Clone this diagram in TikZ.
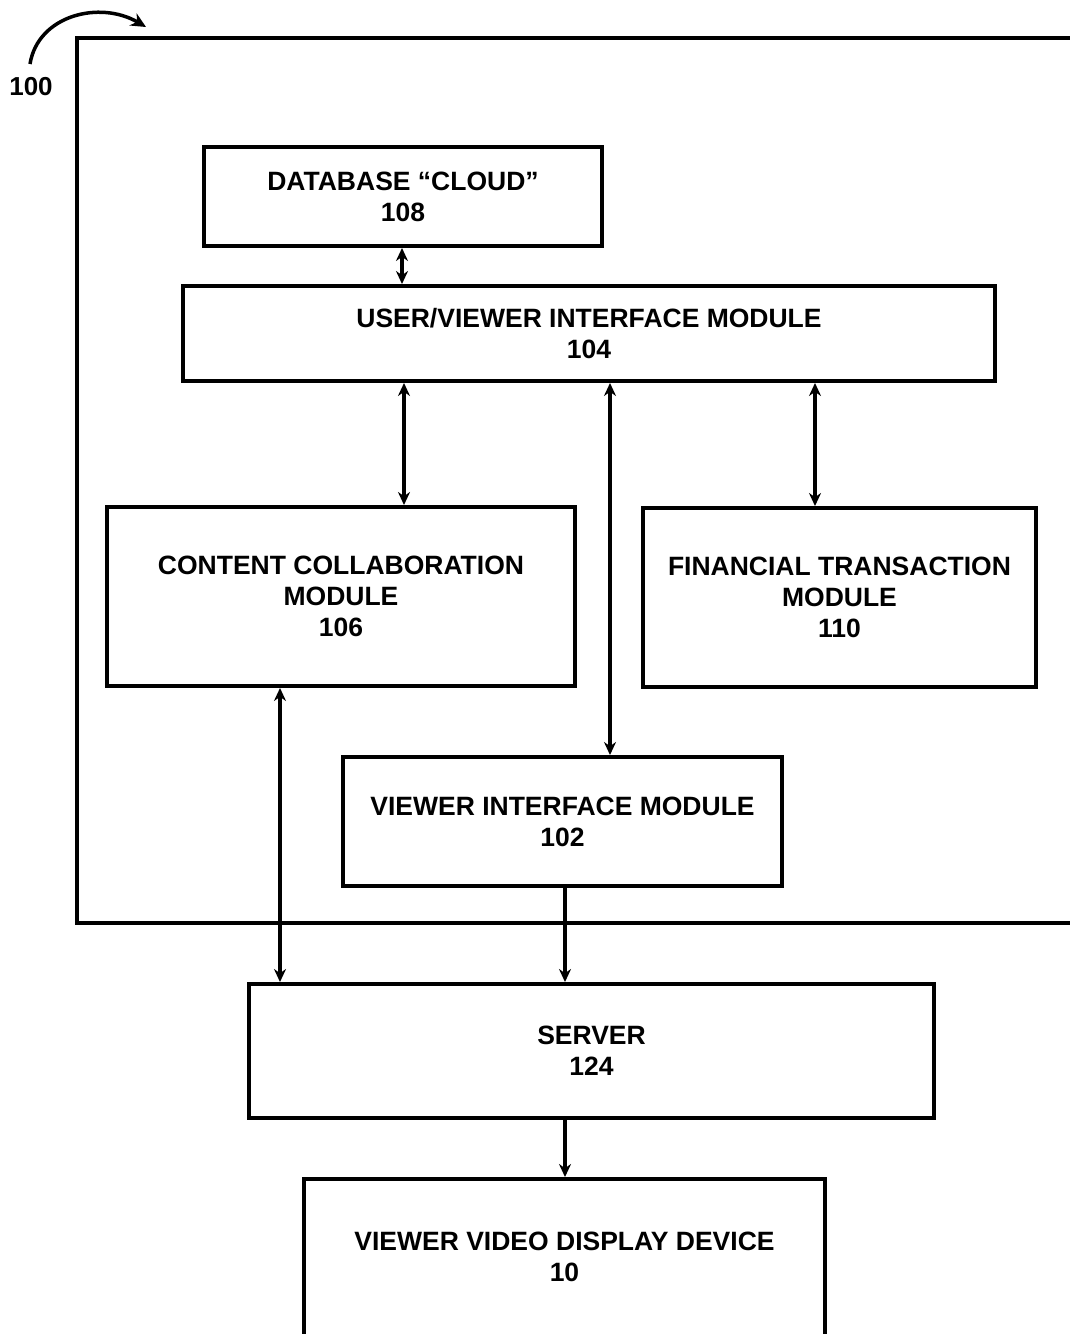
\documentclass[tikz,border=0pt]{standalone}
\usepackage{fontspec}
\setmainfont{Liberation Sans}
\usetikzlibrary{arrows.meta}
\begin{document}
\begin{tikzpicture}[x=1pt,y=-1pt,
  txt/.style={align=center,font=\fontsize{26.5}{31}\selectfont\bfseries,inner sep=0pt},
  box/.style={txt,draw,line width=4pt},
  tip/.style={Stealth[length=13pt,width=12pt]},
  conn/.style={line width=3.5pt,{Stealth[length=13pt,width=12pt]}-{Stealth[length=13pt,width=12pt]}},
  oneway/.style={line width=3.5pt,-{Stealth[length=13pt,width=12pt]}}]
\useasboundingbox (0,0) rectangle (1070,1334);
\clip (0,0) rectangle (1070,1334);
% outer frame
\draw[line width=4pt] (1075,38) -- (77,38) -- (77,923) -- (1075,923);
\node[font=\fontsize{26}{30}\selectfont\bfseries] (lbl) at (31,87) {100};
\coordinate (cs) at (30,64);
\coordinate (ce) at (146,27);
\draw[line width=3.5pt,-{Stealth[length=15pt,width=14pt]}] (cs) .. controls (38,15) and (100,0) .. (ce);
% boxes
\node[box,minimum width=398,minimum height=99] (db) at (403,196.5) {DATABASE “CLOUD”\\108};
\node[box,minimum width=812,minimum height=95] (uv) at (589,333.5) {USER/VIEWER INTERFACE MODULE\\104};
\node[box,minimum width=468,minimum height=179] (cc) at (341,596.5) {CONTENT COLLABORATION\\MODULE\\106};
\node[box,minimum width=393,minimum height=179] (ft) at (839.5,597.5) {FINANCIAL TRANSACTION\\MODULE\\110};
\node[box,minimum width=439,minimum height=129] (vi) at (562.5,821.5) {VIEWER INTERFACE MODULE\\102};
\node[box,minimum width=685,minimum height=134] (sv) at (591.5,1051) {SERVER\\124};
\node[box,minimum width=521,minimum height=180,anchor=north] (dd) at (564.5,1177) {};
\node[txt] (ddt) at (564.5,1257) {VIEWER VIDEO DISPLAY DEVICE\\10};
% connectors
\draw[conn] (db.south -| 402,0) -- (uv.north -| 402,0);
\draw[conn] (uv.south -| 404,0) -- (cc.north -| 404,0);
\draw[conn] (uv.south -| 610,0) -- (vi.north -| 610,0);
\draw[conn] (uv.south -| 815,0) -- (ft.north -| 815,0);
\draw[conn] (cc.south -| 280,0) -- (sv.north -| 280,0);
\draw[oneway] (vi.south -| 565,0) -- (sv.north -| 565,0);
\draw[oneway] (sv.south -| 565,0) -- (dd.north -| 565,0);
\end{tikzpicture}
\end{document}
